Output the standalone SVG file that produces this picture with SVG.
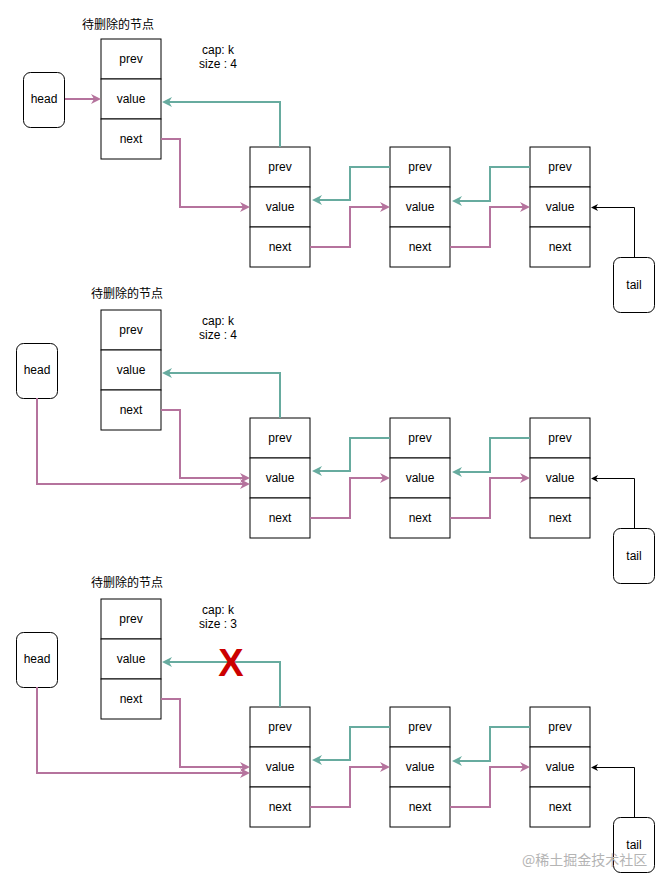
<svg xmlns="http://www.w3.org/2000/svg" width="671" height="889" viewBox="0 0 671 889">
<style>
text{font-family:"Liberation Sans",Arial,sans-serif;font-size:12px;fill:#000;text-anchor:middle;dominant-baseline:central}
.cell{fill:#fff;stroke:#000;stroke-width:1}
.ptr{fill:#fff;stroke:#000;stroke-width:1}
.cn{font-family:"Liberation Sans","Noto Sans CJK SC",sans-serif}
.pink{fill:none;stroke:#B5739D;stroke-width:2;marker-end:url(#ap)}
.green{fill:none;stroke:#67AB9F;stroke-width:2;marker-end:url(#ag)}
.blk{fill:none;stroke:#000;stroke-width:1;marker-end:url(#ab)}
.wm{font-family:"Noto Sans CJK SC",sans-serif;font-size:14px;fill:#b4b4b4;text-anchor:start}
</style>
<defs>
<marker id="ap" viewBox="0 0 10 10" markerUnits="userSpaceOnUse" markerWidth="10" markerHeight="10" refX="5" refY="5" orient="auto"><path d="M0,0 L10,5 L0,10 L3,5 Z" fill="#B5739D"/></marker>
<marker id="ag" viewBox="0 0 10 10" markerUnits="userSpaceOnUse" markerWidth="10" markerHeight="10" refX="5" refY="5" orient="auto"><path d="M0,0 L10,5 L0,10 L3,5 Z" fill="#67AB9F"/></marker>
<marker id="ab" viewBox="0 0 7 7" markerUnits="userSpaceOnUse" markerWidth="7" markerHeight="7" refX="3.5" refY="3.5" orient="auto"><path d="M0,0 L7,3.5 L0,7 L2,3.5 Z" fill="#000"/></marker>
<g id="node">
<rect class="cell" x="0" y="0" width="60" height="40"/><text x="30" y="20">prev</text>
<rect class="cell" x="0" y="40" width="60" height="40"/><text x="30" y="60">value</text>
<rect class="cell" x="0" y="80" width="60" height="40"/><text x="30" y="100">next</text>
</g>
</defs>

<!-- ===== Section 1 ===== -->
<g id="s1-label"><text class="cn" x="118" y="25">待删除的节点</text></g>
<g id="s1-info"><text x="218" y="50">cap: k</text><text x="218" y="64">size : 4</text></g>
<g id="s1-del"><use href="#node" x="101" y="39"/></g>
<g id="s1-n2"><use href="#node" x="250" y="147"/></g>
<g id="s1-n3"><use href="#node" x="390" y="147"/></g>
<g id="s1-n4"><use href="#node" x="530" y="147"/></g>
<g id="s1-head"><rect class="ptr" x="23.5" y="72.5" width="41" height="55" rx="7" stroke="#555"/><text x="44" y="99">head</text></g>
<g id="s1-tail"><rect class="ptr" x="613.5" y="257.5" width="41" height="55" rx="7"/><text x="634" y="285">tail</text></g>
<g id="s1-edges">
<path class="pink" d="M65,99 H96"/>
<path class="green" d="M280,147 V102 H167"/>
<path class="pink" d="M161,139 H180 V207 H245"/>
<path class="green" d="M390,167 H350 V200 H317"/>
<path class="pink" d="M310,247 H350 V207 H385"/>
<path class="green" d="M530,167 H490 V201 H457"/>
<path class="pink" d="M450,247 H490 V207 H525"/>
<path class="blk" d="M634.5,257 V207.5 H594.5"/>
</g>

<!-- ===== Section 2 ===== -->
<g id="s2-label"><text class="cn" x="127" y="294">待删除的节点</text></g>
<g id="s2-info"><text x="218" y="321">cap: k</text><text x="218" y="335">size : 4</text></g>
<g id="s2-del"><use href="#node" x="101" y="310"/></g>
<g id="s2-n2"><use href="#node" x="250" y="418"/></g>
<g id="s2-n3"><use href="#node" x="390" y="418"/></g>
<g id="s2-n4"><use href="#node" x="530" y="418"/></g>
<g id="s2-head"><rect class="ptr" x="16.5" y="343.5" width="41" height="55" rx="7" stroke="#555"/><text x="37" y="370">head</text></g>
<g id="s2-tail"><rect class="ptr" x="613.5" y="528.5" width="41" height="55" rx="7"/><text x="634" y="556">tail</text></g>
<g id="s2-edges">
<path class="pink" d="M37,398 V484 H245"/>
<path class="green" d="M280,418 V373 H167"/>
<path class="pink" d="M161,410 H180 V478 H245"/>
<path class="green" d="M390,438 H350 V471 H317"/>
<path class="pink" d="M310,518 H350 V478 H385"/>
<path class="green" d="M530,438 H490 V472 H457"/>
<path class="pink" d="M450,518 H490 V478 H525"/>
<path class="blk" d="M634.5,528 V478.5 H594.5"/>
</g>

<!-- ===== Section 3 ===== -->
<g id="s3-label"><text class="cn" x="127" y="583">待删除的节点</text></g>
<g id="s3-info"><text x="218" y="610">cap: k</text><text x="218" y="624">size : 3</text></g>
<g id="s3-del"><use href="#node" x="101" y="599"/></g>
<g id="s3-n2"><use href="#node" x="250" y="707"/></g>
<g id="s3-n3"><use href="#node" x="390" y="707"/></g>
<g id="s3-n4"><use href="#node" x="530" y="707"/></g>
<g id="s3-head"><rect class="ptr" x="16.5" y="632.5" width="41" height="55" rx="7" stroke="#555"/><text x="37" y="659">head</text></g>
<g id="s3-tail"><rect class="ptr" x="613.5" y="817.5" width="41" height="55" rx="7"/><text x="634" y="845">tail</text></g>
<g id="s3-edges">
<path class="pink" d="M37,687 V773 H245"/>
<path class="green" d="M280,707 V662 H167"/>
<path class="pink" d="M161,699 H180 V767 H245"/>
<path class="green" d="M390,727 H350 V760 H317"/>
<path class="pink" d="M310,807 H350 V767 H385"/>
<path class="green" d="M530,727 H490 V761 H457"/>
<path class="pink" d="M450,807 H490 V767 H525"/>
<path class="blk" d="M634.5,817 V767.5 H594.5"/>
</g>
<g id="s3-cross"><text x="231" y="663" style="font-size:38px;font-weight:bold;fill:#CC0000">X</text></g>

<text class="wm" x="522" y="859">@稀土掘金技术社区</text>
</svg>
